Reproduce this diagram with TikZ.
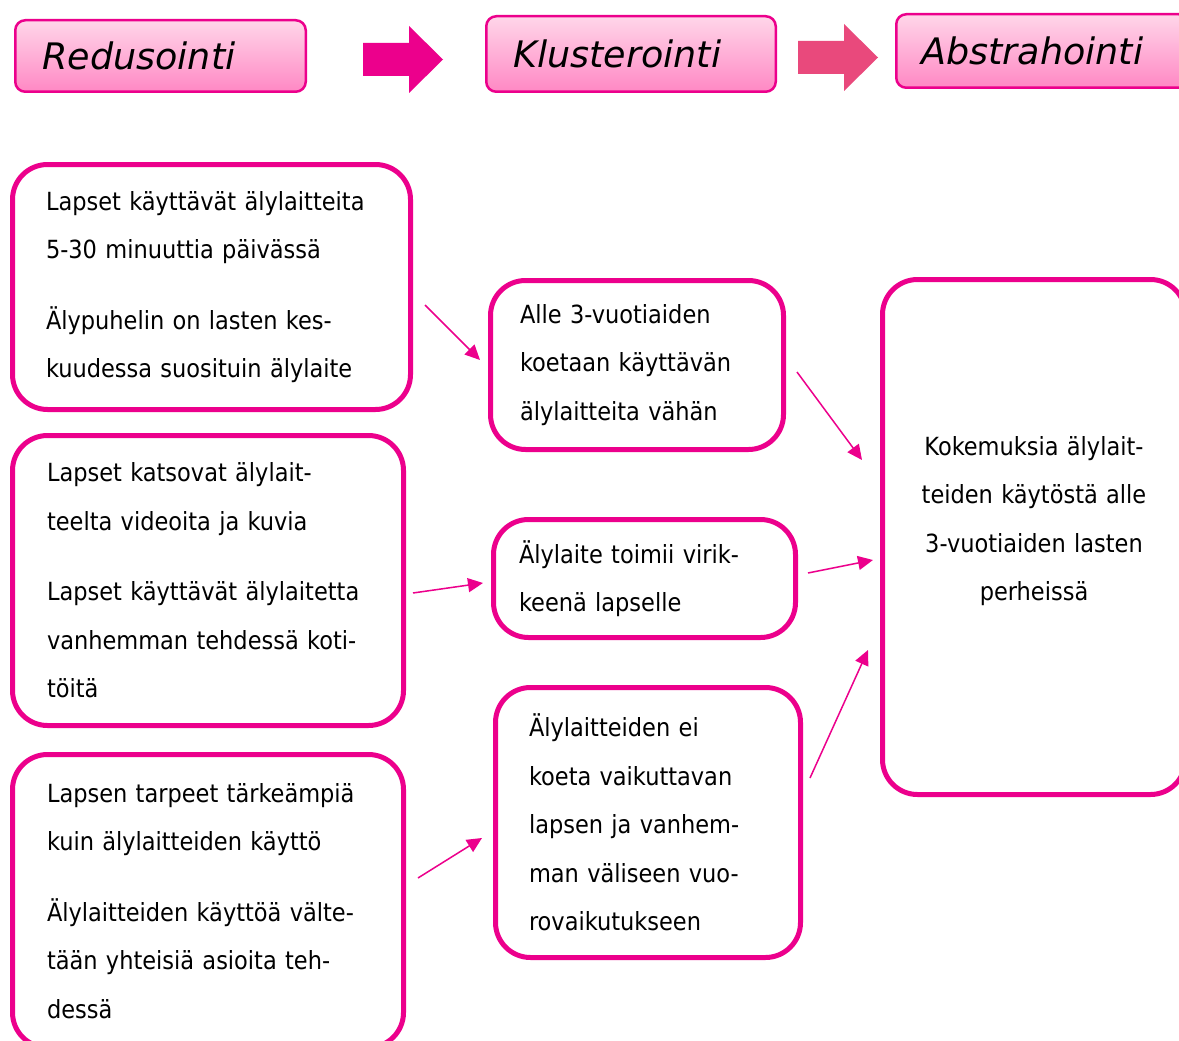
\documentclass[tikz,border=0pt]{standalone}
\usepackage{fontspec}
\setmainfont{DejaVu Sans Condensed}
\newfontfamily\headfont{DejaVu Sans}
\usetikzlibrary{arrows.meta}

\definecolor{pinkline}{RGB}{236,0,140}
\definecolor{pinkarrow}{RGB}{233,73,124}
\definecolor{headtop}{RGB}{255,214,233}
\definecolor{headbottom}{RGB}{255,136,196}

\tikzset{
    phasebox/.style={draw=pinkline, line width=2.5pt, rounded corners=10pt,
        top color=headtop, bottom color=headbottom, align=left,
        font=\headfont\itshape\fontsize{36.5}{40}\selectfont},
    ideabox/.style={draw=pinkline, line width=5pt, rounded corners=35pt,
        fill=white, align=left, inner ysep=0pt,
        font=\fontsize{25}{48.5}\selectfont},
    linkarrow/.style={draw=pinkline, line width=1.5pt,
        -{Triangle[length=15pt,width=14pt]}}
}

\begin{document}
\begin{tikzpicture}[x=1pt, y=-1pt]
    \clip (0,0) rectangle (1179,1041);
    \fill[white] (0,0) rectangle (1179,1041);

    % Phase headers
    \node[phasebox, inner xsep=27pt, text width=236.5pt, minimum height=71.5pt] (redu) at (160.5,56) {Redusointi};
    \node[phasebox, inner xsep=27pt, text width=235.5pt, minimum height=75.5pt] (klus) at (631,54) {Klusterointi};
    \node[phasebox, inner xsep=25pt, text width=242.5pt, minimum height=73.5pt] (abst) at (1042.5,51) {Abstrahointi};

    % Block arrows between the phases
    \def\shafthalf{16.5}
    \def\headhalf{33.5}
    \foreach \xa/\xh/\xb/\ym/\col in {363/409/443/59.5/pinkline, 798/844/878/57.5/pinkarrow} {
        \fill[\col] (\xa,\ym-\shafthalf) -- (\xh,\ym-\shafthalf) -- (\xh,\ym-\headhalf)
            -- (\xb,\ym) -- (\xh,\ym+\headhalf) -- (\xh,\ym+\shafthalf) -- (\xa,\ym+\shafthalf) -- cycle;
    }

    % Reduced expressions
    \node[ideabox, inner xsep=33.5pt, text width=331pt, minimum height=245pt] (red1) at (211.5,287)
        {Lapset käyttävät älylaitteita\\5-30 minuuttia päivässä\\[22pt]Älypuhelin on lasten kes-\\kuudessa suosituin älylaite};
    \node[ideabox, inner xsep=34.5pt, text width=322pt, minimum height=290pt] (red2) at (208,580.5)
        {Lapset katsovat älylait-\\teelta videoita ja kuvia\\[22pt]Lapset käyttävät älylaitetta\\vanhemman tehdessä koti-\\töitä};
    \node[ideabox, inner xsep=34.5pt, text width=322pt, minimum height=293pt] (red3) at (208,901)
        {Lapsen tarpeet tärkeämpiä\\kuin älylaitteiden käyttö\\[22pt]Älylaitteiden käyttöä välte-\\tään yhteisiä asioita teh-\\dessä};

    % Clusters
    \node[ideabox, inner xsep=29.5pt, text width=234pt, minimum height=169pt] (clu1) at (637,365)
        {Alle 3-vuotiaiden\\koetaan käyttävän\\älylaitteita vähän};
    \node[ideabox, inner xsep=25.5pt, text width=251pt, minimum height=118pt] (clu2) at (644.5,578.5)
        {Älylaite toimii virik-\\keenä lapselle};
    \node[ideabox, inner xsep=33.5pt, text width=238pt, minimum height=270pt] (clu3) at (648,822.5)
        {Älylaitteiden ei\\koeta vaikuttavan\\lapsen ja vanhem-\\man väliseen vuo-\\rovaikutukseen};

    % Abstraction
    \node[ideabox, align=center, inner xsep=20pt, text width=263pt, minimum height=515pt] (abs1) at (1034,537)
        {Kokemuksia älylait-\\teiden käytöstä alle\\3-vuotiaiden lasten\\perheissä\\[-12pt]\mbox{}};

    % Links
    \draw[linkarrow] ([shift={(12,18)}]red1.east) -- ([shift={(-8,-5)}]clu1.west);
    \draw[linkarrow] ([shift={(7,12.5)}]red2.east) -- ([shift={(-8,4.5)}]clu2.west);
    \draw[linkarrow] ([shift={(12,-23)}]red3.east) -- ([shift={(-11,15.5)}]clu3.west);
    \draw[linkarrow] ([shift={(11,7)}]clu1.east) -- ([shift={(-18,-77)}]abs1.west);
    \draw[linkarrow] ([shift={(10,-5.5)}]clu2.east) -- ([shift={(-7,23)}]abs1.west);
    \draw[linkarrow] ([shift={(7,-44.5)}]clu3.east) -- ([shift={(-12,113)}]abs1.west);
\end{tikzpicture}
\end{document}
